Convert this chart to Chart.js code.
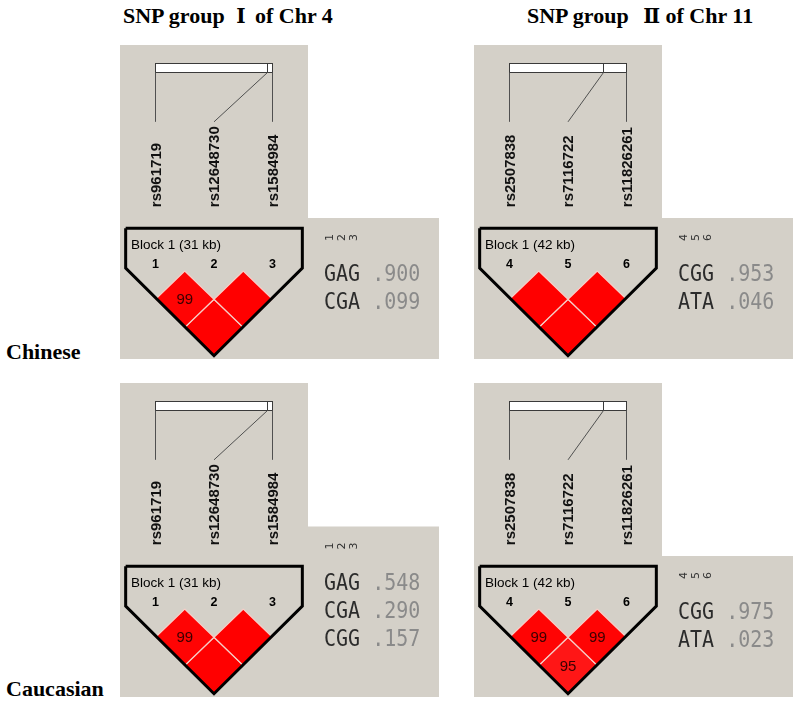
<!DOCTYPE html>
<html>
<head>
<meta charset="UTF-8">
<title>LD blocks Chr 4 / Chr 11</title>
<script src="https://cdn.jsdelivr.net/npm/chart.js"></script>
<style>
    body, html { margin: 0; padding: 0; background: #fff; }
    #fig { position: relative; width: 800px; height: 703px; overflow: hidden; }
    .lbl {
        position: absolute;
        font-family: 'Liberation Serif', 'DejaVu Serif', serif;
        font-weight: bold;
        font-size: 22px;
        line-height: 22px;
        white-space: nowrap;
        color: #000;
    }
    .rn { font-family: 'DejaVu Serif', serif; font-size: 20px; }
    canvas { position: absolute; }
</style>
</head>
<body>
<div id="fig">
    <div class="lbl" style="left:123px;top:5px">SNP group <span class="rn" style="margin:0 4px 0 6px">Ⅰ</span> of Chr 4</div>
    <div class="lbl" style="left:527px;top:5px">SNP group <span class="rn" style="margin:0 0 0 9px">Ⅱ</span> of Chr 11</div>
    <div class="lbl" style="left:6px;top:341px">Chinese</div>
    <div class="lbl" style="left:6px;top:678px">Caucasian</div>
    <canvas id="cnChr4" width="319" height="314" style="left:120px;top:45px"></canvas>
    <canvas id="cnChr11" width="319" height="314" style="left:474px;top:45px"></canvas>
    <canvas id="euChr4" width="319" height="314" style="left:120px;top:383px"></canvas>
    <canvas id="euChr11" width="319" height="314" style="left:474px;top:383px"></canvas>
</div>
<script>
    // markers
    const chr4Snps = ['rs961719', 'rs12648730', 'rs1584984'];
    const chr4PosKb = [0, 29.6, 31.0];
    const chr4Markers = [1, 2, 3];
    const chr11Snps = ['rs2507838', 'rs7116722', 'rs11826261'];
    const chr11PosKb = [0, 33.7, 42.0];
    const chr11Markers = [4, 5, 6];

    // D' (x100) for the pairs 1-2, 2-3, 1-3
    const pairOrder = [[0, 1], [1, 2], [0, 2]];
    const cnChr4Dprime = [99, 100, 100];
    const cnChr11Dprime = [100, 100, 100];
    const euChr4Dprime = [99, 100, 100];
    const euChr11Dprime = [99, 99, 95];

    // haplotypes and frequencies
    const cnChr4Haps = ['GAG', 'CGA'];
    const cnChr4Freq = [0.900, 0.099];
    const cnChr11Haps = ['CGG', 'ATA'];
    const cnChr11Freq = [0.953, 0.046];
    const euChr4Haps = ['GAG', 'CGA', 'CGG'];
    const euChr4Freq = [0.548, 0.290, 0.157];
    const euChr11Haps = ['CGG', 'ATA'];
    const euChr11Freq = [0.975, 0.023];

    const GRAY = '#d4d0c8';
    const W = 319, H = 314, TOP_W = 188;
    const PX_X = 58.5, PX_Y = 56.5, SNP0_X = 35.5, APEX_Y = 226;
    // rows of the upper part, in y units (0 = top vertices of the first diamonds)
    const Y_BAR_TOP = -3.68, Y_BAR_BOT = -3.52, Y_LINE_END = -2.64, Y_NAME_END = -1.13;
    const Y_BLOCK = -0.45, Y_MARKER = -0.11;

    function ldColor(d) {
        const v = d / 100;
        const gb = Math.max(0, Math.min(255, Math.round(446 * (1 - v))));
        return `rgb(255, ${gb}, ${gb})`;
    }

    function fmtFreq(f) {
        return f.toFixed(3).replace(/^0/, '');
    }

    function makePanel(id, snps, pos, markers, dprime, haps, freq) {
        const n = snps.length;
        const datasets = pairOrder.map(([i, j], k) => {
            const cx = (i + j) / 2, cy = (j - i) / 2, h = 0.5;
            return {
                data: [{x: cx, y: cy - h}, {x: cx + h, y: cy}, {x: cx, y: cy + h}, {x: cx - h, y: cy}, {x: cx, y: cy - h}],
                showLine: true,
                fill: 'shape',
                backgroundColor: ldColor(dprime[k]),
                borderColor: '#f6cfc8',
                borderWidth: 1.2,
                pointRadius: 0,
                order: 2
            };
        });
        const f = 0, l = n - 1, mid = (f + l) / 2;
        datasets.push({
            data: [
                {x: f - 0.51, y: -0.755}, {x: l + 0.51, y: -0.755}, {x: l + 0.51, y: -0.05},
                {x: mid, y: (l - f) / 2 + 0.5}, {x: f - 0.51, y: -0.05}, {x: f - 0.51, y: -0.755}
            ],
            showLine: true,
            fill: false,
            borderColor: '#000',
            borderWidth: 3,
            borderJoinStyle: 'miter',
            pointRadius: 0,
            order: 1
        });

        const hapTop = 232 - 29.5 * haps.length;

        const ldPlugin = {
            id: 'ld',
            beforeDraw(chart) {
                const ctx = chart.ctx;
                ctx.save();
                ctx.fillStyle = GRAY;
                ctx.fillRect(0, 0, TOP_W, chart.height);
                ctx.fillRect(0, hapTop, chart.width, chart.height - hapTop);
                ctx.restore();
            },
            afterDatasetsDraw(chart) {
                const ctx = chart.ctx;
                const X = v => chart.scales.x.getPixelForValue(v);
                const Y = v => chart.scales.y.getPixelForValue(v);
                const span = pos[n - 1] - pos[0];
                const physX = k => X((pos[k] - pos[0]) / span * (n - 1));
                ctx.save();

                // physical map bar
                const bt = Math.round(Y(Y_BAR_TOP)) + 0.5, bb = Math.round(Y(Y_BAR_BOT)) + 0.5;
                ctx.fillStyle = '#fff';
                ctx.fillRect(physX(0), bt, physX(n - 1) - physX(0), bb - bt);
                ctx.strokeStyle = '#3a3a3a';
                ctx.lineWidth = 1;
                ctx.strokeRect(physX(0), bt, physX(n - 1) - physX(0), bb - bt);
                ctx.beginPath();
                for (let k = 1; k < n - 1; k++) {
                    ctx.moveTo(Math.round(physX(k)) + 0.5, bt);
                    ctx.lineTo(Math.round(physX(k)) + 0.5, bb);
                }
                ctx.stroke();

                // connectors
                ctx.strokeStyle = '#505050';
                ctx.beginPath();
                for (let k = 0; k < n; k++) {
                    ctx.moveTo(k === 0 || k === n - 1 ? physX(k) : Math.round(physX(k)) + 0.5, bb);
                    ctx.lineTo(X(k), Y(Y_LINE_END));
                }
                ctx.stroke();

                // marker names
                ctx.fillStyle = '#111';
                ctx.font = 'bold 15px "Liberation Sans", Arial, sans-serif';
                ctx.textAlign = 'left';
                ctx.textBaseline = 'alphabetic';
                snps.forEach((s, k) => {
                    ctx.save();
                    ctx.translate(X(k) + 5.4, Y(Y_NAME_END));
                    ctx.rotate(-Math.PI / 2);
                    ctx.fillText(s, 0, 0);
                    ctx.restore();
                });

                // block label and marker numbers
                ctx.fillStyle = '#000';
                ctx.textBaseline = 'middle';
                ctx.font = '13.5px "Liberation Sans", Arial, sans-serif';
                ctx.fillText('Block 1 (' + Math.round(span) + ' kb)', X(f - 0.42), Y(Y_BLOCK));
                ctx.font = 'bold 12.5px "Liberation Sans", Arial, sans-serif';
                ctx.textAlign = 'center';
                markers.forEach((m, k) => ctx.fillText(String(m), X(k), Y(Y_MARKER)));

                // D' values below 100
                ctx.font = '15px "Liberation Sans", Arial, sans-serif';
                ctx.fillStyle = '#3a0000';
                pairOrder.forEach(([i, j], k) => {
                    if (dprime[k] < 100) ctx.fillText(String(dprime[k]), X((i + j) / 2), Y((j - i) / 2) + 1);
                });

                // haplotypes
                const hx = 204, adv = 12.04;
                ctx.font = '11px "DejaVu Sans", sans-serif';
                ctx.fillStyle = '#333';
                ctx.textAlign = 'center';
                ctx.textBaseline = 'middle';
                markers.forEach((m, k) => {
                    ctx.save();
                    ctx.translate(hx + adv * (k + 0.5), hapTop + 19.5);
                    ctx.rotate(-Math.PI / 2);
                    ctx.fillText(String(m), 0, 0);
                    ctx.restore();
                });
                ctx.font = '20px "DejaVu Sans Mono", monospace';
                ctx.textAlign = 'left';
                ctx.textBaseline = 'alphabetic';
                haps.forEach((hp, r) => {
                    ctx.save();
                    ctx.translate(hx, hapTop + 55 + 28 * r);
                    ctx.scale(1, 1.12);
                    ctx.fillStyle = '#2c2c2c';
                    ctx.fillText(hp, 0, 7.3);
                    ctx.fillStyle = '#8a8a8a';
                    ctx.fillText(' ' + fmtFreq(freq[r]), adv * hp.length, 7.3);
                    ctx.restore();
                });
                ctx.restore();
            }
        };

        return new Chart(document.getElementById(id), {
            type: 'scatter',
            data: {datasets},
            options: {
                responsive: false,
                animation: false,
                devicePixelRatio: 1,
                layout: {padding: 0},
                plugins: {legend: {display: false}, tooltip: {enabled: false}},
                scales: {
                    x: {type: 'linear', display: false, bounds: 'data', min: -SNP0_X / PX_X, max: (W - SNP0_X) / PX_X},
                    y: {type: 'linear', display: false, bounds: 'data', reverse: true, min: -APEX_Y / PX_Y, max: (H - APEX_Y) / PX_Y}
                }
            },
            plugins: [ldPlugin]
        });
    }

    makePanel('cnChr4', chr4Snps, chr4PosKb, chr4Markers, cnChr4Dprime, cnChr4Haps, cnChr4Freq);
    makePanel('cnChr11', chr11Snps, chr11PosKb, chr11Markers, cnChr11Dprime, cnChr11Haps, cnChr11Freq);
    makePanel('euChr4', chr4Snps, chr4PosKb, chr4Markers, euChr4Dprime, euChr4Haps, euChr4Freq);
    makePanel('euChr11', chr11Snps, chr11PosKb, chr11Markers, euChr11Dprime, euChr11Haps, euChr11Freq);
</script>
</body>
</html>
